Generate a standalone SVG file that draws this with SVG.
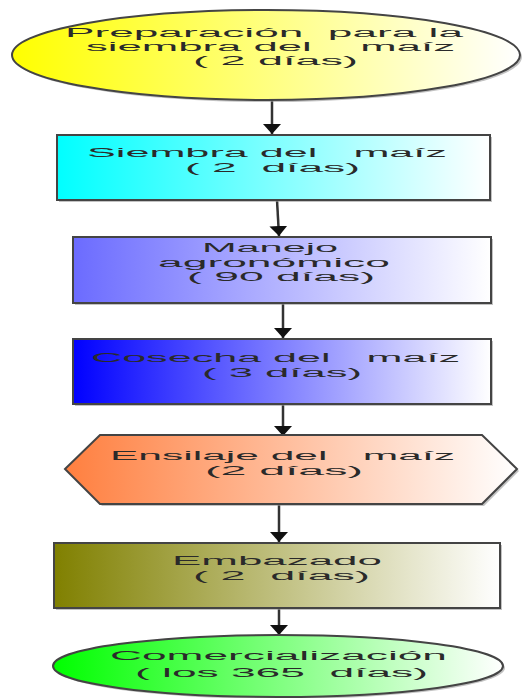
<svg xmlns="http://www.w3.org/2000/svg" width="522" height="698" viewBox="0 0 522 698">
<defs>
<linearGradient id="gY"><stop offset="0" stop-color="#ffff00"/><stop offset="1" stop-color="#ffffff"/></linearGradient>
<linearGradient id="gC"><stop offset="0" stop-color="#00ffff"/><stop offset="1" stop-color="#ffffff"/></linearGradient>
<linearGradient id="gL"><stop offset="0" stop-color="#6b6bff"/><stop offset="1" stop-color="#ffffff"/></linearGradient>
<linearGradient id="gB"><stop offset="0" stop-color="#0000ff"/><stop offset="1" stop-color="#ffffff"/></linearGradient>
<linearGradient id="gO"><stop offset="0" stop-color="#ff7f3f"/><stop offset="1" stop-color="#ffffff"/></linearGradient>
<linearGradient id="gV"><stop offset="0" stop-color="#808000"/><stop offset="1" stop-color="#ffffff"/></linearGradient>
<linearGradient id="gG"><stop offset="0" stop-color="#00ff00"/><stop offset="1" stop-color="#ffffff"/></linearGradient>
<marker id="ah" viewBox="0 0 10 18" refX="10" refY="9" markerWidth="10" markerHeight="18" markerUnits="userSpaceOnUse" orient="auto">
<path d="M0,0 L10,9 L0,18 z" fill="#111"/>
</marker>
</defs>
<style>
.sh{fill:#9a9a9a;opacity:0.6}
.bx{stroke:#444;stroke-width:2}
text{font-family:"Liberation Sans",Arial,sans-serif;font-size:12.5px;fill:#2a2a2a;white-space:pre}
.cn line{stroke:#333;stroke-width:2.5}
</style>
<g id="connectors" class="cn">
<line x1="272" y1="100" x2="272" y2="134" marker-end="url(#ah)"/>
<line x1="277" y1="200" x2="279" y2="236" marker-end="url(#ah)"/>
<line x1="283" y1="303" x2="283" y2="338" marker-end="url(#ah)"/>
<line x1="283" y1="404" x2="283" y2="436" marker-end="url(#ah)"/>
<line x1="279" y1="504" x2="279" y2="542" marker-end="url(#ah)"/>
<line x1="279" y1="608" x2="279" y2="635" marker-end="url(#ah)"/>
</g>
<g id="n1">
<ellipse class="sh" cx="268" cy="57" rx="254" ry="45"/>
<ellipse class="bx" cx="266" cy="55" rx="254" ry="45" fill="url(#gY)"/>
<text x="65" y="37" textLength="398" lengthAdjust="spacingAndGlyphs">Preparación  para la</text>
<text x="86" y="51" textLength="369" lengthAdjust="spacingAndGlyphs">siembra del    maíz</text>
<text x="193" y="65" textLength="165" lengthAdjust="spacingAndGlyphs">( 2 días)</text>
</g>
<g id="n2">
<rect class="sh" x="59" y="137" width="433" height="65"/>
<rect class="bx" x="57" y="135" width="433" height="65" fill="url(#gC)"/>
<text x="87" y="157" textLength="360" lengthAdjust="spacingAndGlyphs">Siembra del   maíz</text>
<text x="185" y="172" textLength="175" lengthAdjust="spacingAndGlyphs">( 2  días)</text>
</g>
<g id="n3">
<rect class="sh" x="75" y="239" width="418" height="66"/>
<rect class="bx" x="73" y="237" width="418" height="66" fill="url(#gL)"/>
<text x="202" y="252" textLength="136" lengthAdjust="spacingAndGlyphs">Manejo</text>
<text x="158" y="267" textLength="232" lengthAdjust="spacingAndGlyphs">agronómico</text>
<text x="187" y="281" textLength="188" lengthAdjust="spacingAndGlyphs">( 90 días)</text>
</g>
<g id="n4">
<rect class="sh" x="75" y="341" width="418" height="65"/>
<rect class="bx" x="73" y="339" width="418" height="65" fill="url(#gB)"/>
<text x="91" y="362" textLength="369" lengthAdjust="spacingAndGlyphs">Cosecha del   maíz</text>
<text x="202" y="377" textLength="160" lengthAdjust="spacingAndGlyphs">( 3 días)</text>
</g>
<g id="n5">
<polygon class="sh" points="67,471 102,437 484,437 519,471 484,506 102,506"/>
<polygon class="bx" points="65,469 100,435 482,435 517,469 482,504 100,504" fill="url(#gO)"/>
<text x="110" y="460" textLength="345" lengthAdjust="spacingAndGlyphs">Ensilaje del   maíz</text>
<text x="205" y="475" textLength="158" lengthAdjust="spacingAndGlyphs">(2 días)</text>
</g>
<g id="n6">
<rect class="sh" x="56" y="545" width="446" height="65"/>
<rect class="bx" x="54" y="543" width="446" height="65" fill="url(#gV)"/>
<text x="172" y="565" textLength="210" lengthAdjust="spacingAndGlyphs">Embazado</text>
<text x="193" y="580" textLength="177" lengthAdjust="spacingAndGlyphs">( 2  días)</text>
</g>
<g id="n7">
<ellipse class="sh" cx="280" cy="668" rx="225" ry="31"/>
<ellipse class="bx" cx="278" cy="666" rx="225" ry="31" fill="url(#gG)"/>
<text x="110" y="660" textLength="337" lengthAdjust="spacingAndGlyphs">Comercialización</text>
<text x="135" y="677" textLength="293" lengthAdjust="spacingAndGlyphs">( los 365  días)</text>
</g>
</svg>
